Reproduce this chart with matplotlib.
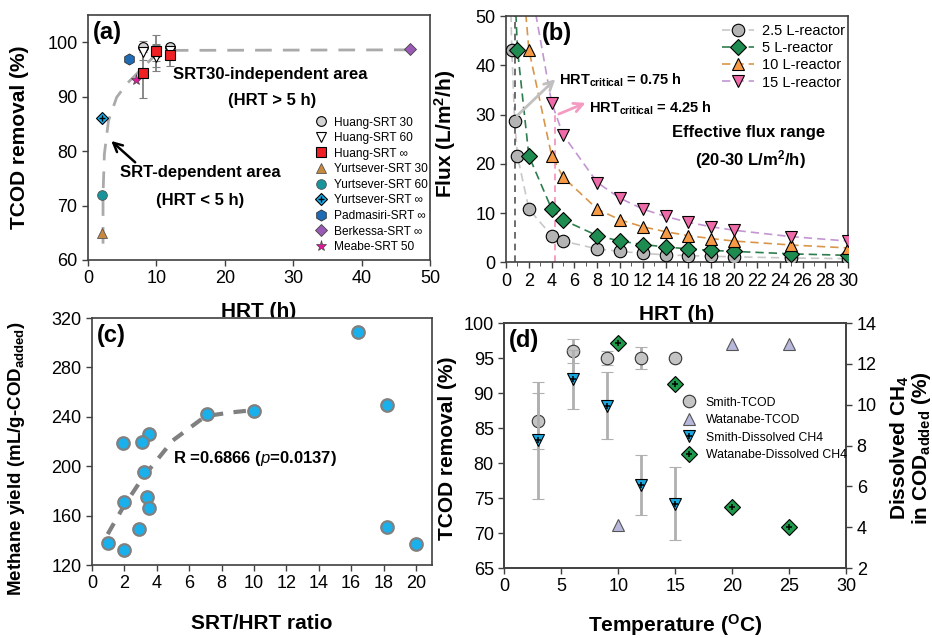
import matplotlib
matplotlib.use("Agg")
import matplotlib.pyplot as plt
from matplotlib.ticker import MultipleLocator

plt.rcParams['font.family'] = ['Liberation Sans', 'DejaVu Sans']
plt.rcParams['mathtext.fontset'] = 'custom'
plt.rcParams['mathtext.rm'] = 'Liberation Sans'
plt.rcParams['mathtext.bf'] = 'Liberation Sans:bold'
plt.rcParams['mathtext.it'] = 'Liberation Sans:italic'
plt.rcParams['axes.edgecolor'] = '#404040'
plt.rcParams['axes.linewidth'] = 1.2

# ---- (a) TCOD removal vs HRT
huang30_hrt = [8, 10, 12]
huang30_tcod = [99.2, 98.0, 99.2]
huang30_err = [1.0, 1.5, 0.5]
huang60_hrt = [8, 10, 12]
huang60_tcod = [98.2, 97.2, 98.3]
huang60_err = [1.5, 2.5, 1.0]
huanginf_hrt = [8, 10, 12]
huanginf_tcod = [94.4, 98.4, 97.6]
huanginf_err = [4.7, 3.0, 2.0]
yurt30 = (2, 65)
yurt60 = (2, 72)
yurtinf = (2, 86)
padmasiri = (6, 97)
berkessa = (47, 98.8)
meabe = (7, 93)
trend_a_hrt = [2.2, 2.2, 2.4, 3.0, 4.2, 5.7, 7.6, 9.5, 12, 47]
trend_a_tcod = [63, 72, 79.5, 85.6, 89.9, 92.4, 94.8, 97.2, 98.5, 98.6]

# ---- (b) Flux vs HRT
hrt_25 = [0.5, 0.75, 1, 2, 4, 5, 8, 10, 12, 14, 16, 18, 20, 25, 30]
flux_25 = [43.2, 28.8, 21.6, 10.8, 5.4, 4.3, 2.7, 2.2, 1.8, 1.5, 1.35, 1.2, 1.1, 0.86, 0.72]
hrt_5 = [1, 2, 4, 5, 8, 10, 12, 14, 16, 18, 20, 25, 30]
flux_5 = [43.2, 21.6, 10.8, 8.6, 5.4, 4.3, 3.6, 3.1, 2.7, 2.4, 2.2, 1.7, 1.4]
hrt_10 = [2, 4, 5, 8, 10, 12, 14, 16, 18, 20, 25, 30]
flux_10 = [43.2, 21.6, 17.3, 10.8, 8.6, 7.2, 6.2, 5.4, 4.8, 4.3, 3.5, 2.9]
hrt_15 = [4, 5, 8, 10, 12, 14, 16, 18, 20, 25, 30]
flux_15 = [32.4, 25.9, 16.2, 13.0, 10.8, 9.3, 8.1, 7.2, 6.5, 5.2, 4.3]
# where each dashed curve leaves the top of the plot
curve_top_hrt = [0.43, 0.86, 1.73, 2.6]
hrt_crit_low = 0.75
hrt_crit_high = 4.25

# ---- (c) methane yield vs SRT/HRT
ratio = [16.4, 18.2, 18.2, 20.0, 10.0, 7.1, 3.5, 3.1, 1.9, 3.2, 3.4, 3.5, 2.0, 2.9, 1.0, 2.0]
methane = [309, 250, 151, 137, 245, 242, 226, 220, 219, 195, 175, 166, 171, 149, 137.5, 132.5]
trend_c_x = [0.97, 1.93, 3.17, 5.0, 7.0, 8.5, 10.0]
trend_c_y = [145, 167, 191.5, 221, 240.5, 243.5, 245.5]

# ---- (d) temperature
smith_temp = [3, 6, 9, 12, 15]
smith_tcod = [86, 96, 95, 95, 95]
smith_tcod_err = [4, 1.7, 1.0, 1.55, 0]
smith_ch4 = [8.25, 11.25, 9.95, 6.05, 5.15]
smith_ch4_err = [2.85, 1.45, 1.63, 1.47, 1.8]
wat_temp = [10, 20, 25]
wat_tcod = [71.1, 97.0, 97.0]
wat_ch4_temp = [10, 15, 20, 25]
wat_ch4 = [13.0, 11.0, 5.0, 4.0]

fig = plt.figure(figsize=(9.32, 6.38), dpi=100)
ax_a = fig.add_axes([0.0944, 0.5925, 0.367, 0.384])
ax_b = fig.add_axes([0.543, 0.589, 0.367, 0.3856])
ax_c = fig.add_axes([0.0987, 0.1144, 0.365, 0.387])
ax_d = fig.add_axes([0.541, 0.1097, 0.367, 0.384])

TICK = 13
LAB = 15
for ax in (ax_a, ax_b, ax_c, ax_d):
    ax.tick_params(labelsize=TICK, direction='out', length=4, width=1, color='#404040')

# ================= (a)
ax = ax_a
ax.plot(trend_a_hrt, trend_a_tcod, color='#aaaaaa', lw=2, dashes=(6, 4), zorder=1)
ek = dict(ecolor='#808080', elinewidth=1.3, capsize=3, capthick=1.3, ls='none')
h1 = ax.errorbar(huang30_hrt, huang30_tcod, yerr=huang30_err, marker='o', ms=7,
                 mfc='#d3d3d3', mec='black', mew=0.8, **ek)
h2 = ax.errorbar(huang60_hrt, huang60_tcod, yerr=huang60_err, marker='v', ms=7,
                 mfc='white', mec='black', mew=0.8, **ek)
h3 = ax.errorbar(huanginf_hrt, huanginf_tcod, yerr=huanginf_err, marker='s', ms=7,
                 mfc='#ee2024', mec='black', mew=0.8, **ek)
h4, = ax.plot(*yurt30, marker='^', ms=7, mfc='#c8893e', mec='#555555', mew=0.6, ls='none')
h5, = ax.plot(*yurt60, marker='o', ms=7, mfc='#17949c', mec='#555555', mew=0.6, ls='none')
h6, = ax.plot(*yurtinf, marker='D', ms=6.5, mfc='#1cb0f0', mec='black', mew=0.8, ls='none')
h6p, = ax.plot(*yurtinf, marker='+', ms=4, mec='black', mew=1, ls='none')
h7, = ax.plot(*padmasiri, marker='h', ms=8, mfc='#1f6cb5', mec='#333333', mew=0.6, ls='none')
h8, = ax.plot(*berkessa, marker='D', ms=6.5, mfc='#9b59b6', mec='#444444', mew=0.6, ls='none')
h9, = ax.plot(*meabe, marker='*', ms=8, mfc='#e0179a', mec='#444444', mew=0.5, ls='none')
ax.legend([h1[0], h2[0], h3[0], h4, h5, (h6, h6p), h7, h8, h9],
          ['Huang-SRT 30', 'Huang-SRT 60', 'Huang-SRT \u221e', 'Yurtsever-SRT 30',
           'Yurtsever-SRT 60', 'Yurtsever-SRT \u221e', 'Padmasiri-SRT \u221e',
           'Berkessa-SRT \u221e', 'Meabe-SRT 50'],
          loc='upper left', bbox_to_anchor=(0.645, 0.61), frameon=False, fontsize=8.6,
          labelspacing=0.3, handletextpad=0.5, handlelength=1.1, borderpad=0)
ax.set_xlim(0, 50)
ax.set_ylim(60, 105)
ax.xaxis.set_major_locator(MultipleLocator(10))
ax.yaxis.set_major_locator(MultipleLocator(10))
ax.set_xlabel('HRT (h)', fontsize=LAB, fontweight='bold')
ax.set_ylabel('TCOD removal (%)', fontsize=LAB, fontweight='bold')
ax.xaxis.set_label_coords(0.5, -0.17)
ax.yaxis.set_label_coords(-0.172, 0.5)
ax.text(0.015, 0.975, '(a)', transform=ax.transAxes, fontsize=17, fontweight='bold', va='top')
ax.text(26.6, 94.1, 'SRT30-independent area', fontsize=12, fontweight='bold', ha='center', va='center')
ax.text(26.9, 89.3, '(HRT > 5 h)', fontsize=12, fontweight='bold', ha='center', va='center')
ax.text(16.4, 76.0, 'SRT-dependent area', fontsize=12, fontweight='bold', ha='center', va='center')
ax.text(16.4, 71.0, '(HRT < 5 h)', fontsize=12, fontweight='bold', ha='center', va='center')
ax.annotate('', xy=(3.1, 82.2), xytext=(7.2, 77.6),
            arrowprops=dict(arrowstyle='->', color='black', lw=1.8, mutation_scale=16))

# ================= (b)
ax = ax_b
series_b = [
    (hrt_25, flux_25, 'o', '#b4b4b4', '#c8c8c8', '2.5 L-reactor'),
    (hrt_5, flux_5, 'D', '#1e8c50', '#2e7d4f', '5 L-reactor'),
    (hrt_10, flux_10, '^', '#f79a45', '#d8964a', '10 L-reactor'),
    (hrt_15, flux_15, 'v', '#ef6aa8', '#c296d2', '15 L-reactor'),
]
handles_b = []
for (xs, ys, mk, fc, lc, lab), xtop in zip(series_b, curve_top_hrt):
    ax.plot([xtop] + xs, [50.5] + ys, color=lc, lw=1.2, dashes=(5, 3), zorder=1, clip_on=True)
    ms = 9 if mk != 'D' else 8
    ax.plot(xs, ys, marker=mk, ls='none', ms=ms, mfc=fc, mec='black', mew=0.8, zorder=3)
    hnd, = ax.plot([], [], marker=mk, ms=ms, mfc=fc, mec='black', mew=0.8,
                   color=lc, lw=1.2, dashes=(5, 3))
    handles_b.append(hnd)
ax.plot([hrt_crit_low, hrt_crit_low], [0, 50], color='#555555', lw=1.2, dashes=(4, 3), zorder=2)
ax.plot([hrt_crit_high, hrt_crit_high], [0, 30], color='#f48fb8', lw=1.2, dashes=(4, 3), zorder=2)
ax.annotate('', xy=(4.5, 37.6), xytext=(0.8, 29.4),
            arrowprops=dict(arrowstyle='->', color='#c0c0c0', lw=2, mutation_scale=16))
ax.annotate('', xy=(7.2, 32.6), xytext=(4.4, 29.9),
            arrowprops=dict(arrowstyle='->', color='#f59ac0', lw=2, mutation_scale=16))
ax.text(4.65, 37.0, r'HRT$_{\mathbf{critical}}$ = 0.75 h', fontsize=10.5, fontweight='bold', va='center')
ax.text(7.25, 31.3, r'HRT$_{\mathbf{critical}}$ = 4.25 h', fontsize=10.5, fontweight='bold', va='center')
ax.text(21.3, 26.4, 'Effective flux range', fontsize=12, fontweight='bold', ha='center', va='center')
ax.text(21.4, 20.9, r'(20-30 L/m$^{\mathbf{2}}$/h)', fontsize=12, fontweight='bold', ha='center', va='center')
ax.text(0.105, 0.975, '(b)', transform=ax.transAxes, fontsize=17, fontweight='bold', va='top')
ax.legend(handles_b, [s[5] for s in series_b], loc='upper right', bbox_to_anchor=(1.02, 1.01),
          frameon=False, fontsize=10.5, labelspacing=0.22, handlelength=2.2, handletextpad=0.5,
          borderpad=0.2)
ax.set_xlim(0, 30)
ax.set_ylim(0, 50)
ax.xaxis.set_major_locator(MultipleLocator(2))
ax.xaxis.set_minor_locator(MultipleLocator(1))
ax.tick_params(axis='x', which='minor', length=3, color='#404040')
ax.yaxis.set_major_locator(MultipleLocator(10))
ax.set_xlabel('HRT (h)', fontsize=LAB, fontweight='bold')
ax.set_ylabel(r'Flux (L/m$^{\mathbf{2}}$/h)', fontsize=LAB, fontweight='bold')
ax.xaxis.set_label_coords(0.5, -0.172)
ax.yaxis.set_label_coords(-0.14, 0.52)

# ================= (c)
ax = ax_c
ax.plot(trend_c_x, trend_c_y, color='#808080', lw=3, dashes=(3, 2.5), zorder=1)
ax.plot(ratio, methane, 'o', ms=9, mfc='#1ab0ec', mec='#808080', mew=1.6, zorder=3)
ax.text(5.0, 206.5, r'R =0.6866 ($\mathbf{\mathit{p}}$=0.0137)', fontsize=12, fontweight='bold', va='center')
ax.text(0.015, 0.975, '(c)', transform=ax.transAxes, fontsize=17, fontweight='bold', va='top')
ax.set_xlim(0, 21)
ax.set_ylim(120, 320)
ax.xaxis.set_major_locator(MultipleLocator(2))
ax.yaxis.set_major_locator(MultipleLocator(40))
ax.set_xlabel('SRT/HRT ratio', fontsize=LAB, fontweight='bold')
ax.set_ylabel(r'Methane yield (mL/g-COD$_{\mathbf{added}}$)', fontsize=13.5, fontweight='bold')
ax.xaxis.set_label_coords(0.5, -0.2)
ax.yaxis.set_label_coords(-0.19, 0.43)

# ================= (d)
ax = ax_d
ax2 = ax.twinx()
ax2.tick_params(labelsize=TICK, direction='out', length=4, width=1, color='#404040')
ek = dict(ecolor='#b0b0b0', elinewidth=2, capsize=4, capthick=2, ls='none')
d1 = ax.errorbar(smith_temp, smith_tcod, yerr=smith_tcod_err, marker='o', ms=9,
                 mfc='#c4c4c4', mec='#333333', mew=0.8, zorder=3, **ek)
d2, = ax.plot(wat_temp, wat_tcod, '^', ms=9, mfc='#b8b8dc', mec='#555555', mew=0.8, zorder=3)
d3 = ax2.errorbar(smith_temp, smith_ch4, yerr=smith_ch4_err, marker='v', ms=9,
                  mfc='#1aa8e0', mec='black', mew=0.8, zorder=3, **ek)
d3p, = ax2.plot(smith_temp, smith_ch4, '+', ms=5, mec='black', mew=1.1, zorder=4)
d4, = ax2.plot(wat_ch4_temp, wat_ch4, 'D', ms=8, mfc='#1e9a4a', mec='black', mew=0.8, zorder=3)
d4p, = ax2.plot(wat_ch4_temp, wat_ch4, '+', ms=5, mec='black', mew=1.1, zorder=4)
ax2.legend([d1[0], d2, (d3[0], d3p), (d4, d4p)],
           ['Smith-TCOD', 'Watanabe-TCOD', 'Smith-Dissolved CH4', 'Watanabe-Dissolved CH4'],
           loc='upper left', bbox_to_anchor=(0.5, 0.725), frameon=False, fontsize=8.8,
           labelspacing=0.45, handletextpad=0.8, handlelength=1.2, borderpad=0)
ax.set_xlim(0, 30)
ax.set_ylim(65, 100)
ax2.set_ylim(2, 14)
ax.xaxis.set_major_locator(MultipleLocator(5))
ax.yaxis.set_major_locator(MultipleLocator(5))
ax2.yaxis.set_major_locator(MultipleLocator(2))
ax.text(0.015, 0.975, '(d)', transform=ax.transAxes, fontsize=17, fontweight='bold', va='top')
ax.set_xlabel(r'Temperature ($^{\mathbf{O}}$C)', fontsize=LAB, fontweight='bold')
ax.set_ylabel('TCOD removal (%)', fontsize=LAB, fontweight='bold')
ax.xaxis.set_label_coords(0.5, -0.178)
ax.yaxis.set_label_coords(-0.137, 0.49)
ax2.set_ylabel('Dissolved CH$_{\\mathbf{4}}$\nin COD$_{\\mathbf{added}}$ (%)', fontsize=LAB,
               fontweight='bold', linespacing=0.95)
ax2.yaxis.set_label_coords(1.125, 0.49)

fig.savefig('out.png', dpi=100)
